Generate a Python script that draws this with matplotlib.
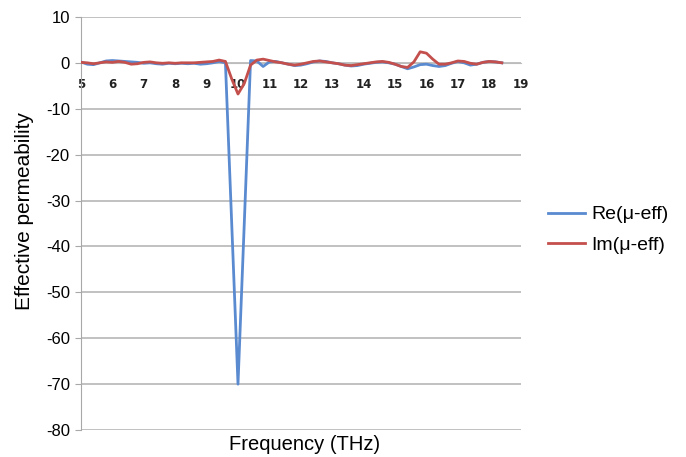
import numpy as np
import matplotlib.pyplot as plt

plt.rcParams['font.family'] = ['Liberation Sans', 'DejaVu Sans']
plt.rcParams['axes.unicode_minus'] = False

# 数据
freq = [5.0, 5.2, 5.4, 5.6, 5.8, 6.0, 6.2, 6.4, 6.6, 6.8,
        7.0, 7.2, 7.4, 7.6, 7.8, 8.0, 8.2, 8.4, 8.6, 8.8,
        9.0, 9.2, 9.4, 9.6, 9.8, 10.0, 10.2, 10.4, 10.6, 10.8,
        11.0, 11.2, 11.4, 11.6, 11.8, 12.0, 12.2, 12.4, 12.6, 12.8,
        13.0, 13.2, 13.4, 13.6, 13.8, 14.0, 14.2, 14.4, 14.6, 14.8,
        15.0, 15.2, 15.4, 15.6, 15.8, 16.0, 16.2, 16.4, 16.6, 16.8,
        17.0, 17.2, 17.4, 17.6, 17.8, 18.0, 18.2, 18.4]
re_mu = [0.2, -0.3, -0.4, 0.0, 0.4, 0.5, 0.4, 0.3, 0.2, 0.1,
         -0.1, 0.0, -0.2, -0.3, -0.1, -0.2, -0.1, -0.2, -0.1, -0.3,
         -0.2, 0.0, 0.3, 0.0, -35.0, -70.0, -35.0, 0.5, 0.4, -0.8,
         0.2, 0.3, 0.0, -0.3, -0.6, -0.5, -0.2, 0.2, 0.4, 0.3,
         0.0, -0.2, -0.5, -0.7, -0.6, -0.3, -0.1, 0.1, 0.2, 0.0,
         -0.3, -0.8, -1.3, -0.9, -0.4, -0.3, -0.6, -0.8, -0.6, -0.1,
         0.3, 0.0, -0.5, -0.3, 0.1, 0.3, 0.2, 0.0]
im_mu = [0.1, 0.0, -0.2, 0.0, 0.2, 0.1, 0.3, 0.1, -0.3, -0.2,
         0.1, 0.2, 0.0, -0.1, 0.0, -0.1, 0.0, 0.0, 0.0, 0.1,
         0.2, 0.3, 0.6, 0.3, -3.5, -6.8, -4.5, -0.5, 0.6, 0.8,
         0.5, 0.2, 0.0, -0.3, -0.5, -0.3, 0.0, 0.3, 0.4, 0.2,
         0.0, -0.2, -0.5, -0.6, -0.4, -0.2, 0.0, 0.2, 0.3, 0.1,
         -0.3, -0.8, -1.0, 0.2, 2.4, 2.1, 0.8, -0.3, -0.3, 0.0,
         0.4, 0.3, -0.1, -0.3, 0.1, 0.3, 0.2, 0.0]
x_ticks = list(range(5, 20))
y_ticks = list(range(-80, 11, 10))

fig = plt.figure(figsize=(6.86, 4.57), dpi=100)
ax = fig.add_axes([0.118, 0.059, 0.641, 0.904])

# 网格线
for y in y_ticks:
    ax.axhline(y, color='#bcbcbc', lw=1.3, zorder=0)

ax.plot(freq, re_mu, color='#5a8ad0', lw=2.0, label='Re(μ-eff)', zorder=3)
ax.plot(freq, im_mu, color='#c4504d', lw=2.0, label='Im(μ-eff)', zorder=4)

ax.set_xlim(5, 19)
ax.set_ylim(-80, 10)
ax.set_xticks(x_ticks)
ax.set_yticks(y_ticks)

# 坐标轴样式（x轴在0处）
ax.spines['top'].set_visible(False)
ax.spines['right'].set_visible(False)
ax.spines['bottom'].set_position(('data', 0))
ax.spines['bottom'].set_color('#bcbcbc')
ax.spines['left'].set_color('#a8a8a8')
ax.tick_params(axis='x', length=0, pad=11, colors='#222222')
for lab in ax.get_xticklabels():
    lab.set_fontfamily('DejaVu Sans')
    lab.set_fontweight('bold')
    lab.set_fontsize(8.5)
ax.tick_params(axis='y', length=4, color='#a8a8a8', labelsize=12, pad=4)

# 轴标题
fig.text(0.035, 0.538, 'Effective permeability', fontsize=15, rotation=90,
         ha='center', va='center')
fig.text(0.444, 0.006, 'Frequency (THz)', fontsize=14.5, ha='center', va='bottom')

ax.legend(loc='center left', bbox_to_anchor=(1.0, 0.485), frameon=False,
          fontsize=14, handlelength=1.9, handletextpad=0.35, labelspacing=0.65,
          borderaxespad=1.0)

plt.savefig('out.png', dpi=100)
